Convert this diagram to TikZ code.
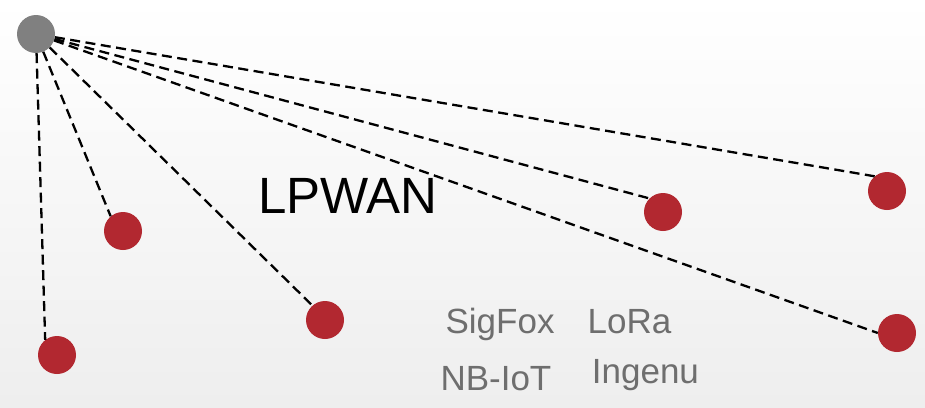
\documentclass[tikz,border=0pt]{standalone}
\usepackage{fontspec}
\setmainfont{Liberation Sans}
\definecolor{nodered}{RGB}{178,40,48}
\definecolor{hubgray}{RGB}{128,128,128}
\definecolor{labelgray}{RGB}{110,110,110}
\definecolor{bgbottom}{RGB}{238,238,238}
\begin{document}
\begin{tikzpicture}[x=1pt,y=-1pt,
  hub/.style={circle,fill=hubgray,minimum size=38pt,inner sep=0pt},
  device/.style={circle,fill=nodered,minimum size=38pt,inner sep=0pt},
  link/.style={draw=black,line width=2.3pt,dash pattern=on 10pt off 5.5pt},
  title/.style={anchor=base west,inner sep=0pt,font=\fontsize{51}{52}\selectfont,text=black},
  tech/.style={anchor=base west,inner sep=0pt,font=\fontsize{35}{36}\selectfont,text=labelgray}]
  % background panel
  \useasboundingbox (0,0) rectangle (925,407);
  \shade[top color=white,bottom color=bgbottom] (0,0) rectangle (925,407);

  % gateway and end devices
  \node[hub] (gw) at (36,34) {};
  \node[device] (d1) at (57,355) {};
  \node[device] (d2) at (123,231) {};
  \node[device] (d3) at (325,320) {};
  \node[device] (d4) at (663,212) {};
  \node[device] (d5) at (887,191) {};
  \node[device] (d6) at (897,333) {};

  % radio links
  \draw[link] (gw) -- (d1.128);
  \draw[link] (gw) -- (d2.130);
  \draw[link] (gw) -- (d3.131);
  \draw[link] (gw) -- (d4.north west);
  \draw[link] (gw) -- (d5.130);
  \draw[link] (gw) -- (d6.west);

  % labels
  \node[title] (lpwan) at (258,213) {LPWAN};
  \node[tech] (sigfox) at (445.4,333) {SigFox};
  \node[tech] (lora) at (587.4,333) {LoRa};
  \node[tech] (nbiot) at (440.3,390) {NB-IoT};
  \node[tech] (ingenu) at (591.7,383) {Ingenu};
\end{tikzpicture}
\end{document}
